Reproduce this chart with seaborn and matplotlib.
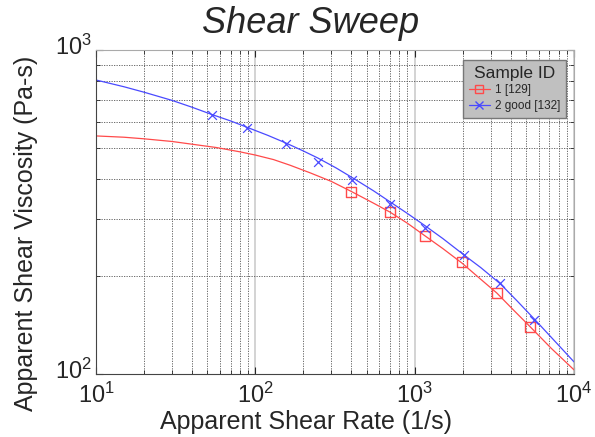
import numpy as np
import matplotlib
matplotlib.use("Agg")
import matplotlib.pyplot as plt
import matplotlib.ticker as mticker
import matplotlib.transforms as mtransforms
from matplotlib.lines import Line2D
import seaborn as sns

rate_1 = [400, 700, 1160, 1980, 3270, 5300]
visc_1 = [364, 316, 267, 222, 178, 140]
rate_2 = [53.5, 89, 156, 247, 405, 700, 1160, 2040, 3440, 5620]
visc_2 = [630, 574, 513, 451, 397, 335, 282, 233, 191, 147]

# fitted curves
fit_rate_1 = [10, 15, 20, 30, 40, 57, 80, 100, 130, 165, 220, 300, 400, 550, 700,
              900, 1160, 1500, 1980, 2600, 3270, 4200, 5300, 7200, 10000]
fit_visc_1 = [543, 538, 532, 522, 512, 500, 485, 474, 459, 441, 418, 393, 366, 337, 316,
              292, 267, 244, 220, 196, 178, 157, 140, 120, 103]
fit_rate_2 = [10, 15, 20, 30, 40, 53.5, 70, 89, 120, 156, 200, 247, 320, 405, 550,
              700, 900, 1160, 1500, 2040, 2600, 3440, 4400, 5620, 7500, 10000]
fit_visc_2 = [808, 770, 741, 699, 666, 632, 604, 577, 545, 516, 488, 464, 433, 404, 368,
              340, 313, 287, 262, 233, 213, 190, 168, 148, 127, 109]

labels = ["1 [129]", "2 good [132]"]
red = "#ff4a4a"
blue = "#4a4aff"

sns.set_style("white")
plt.rcParams["font.family"] = ["Liberation Sans", "DejaVu Sans"]

fig, ax = plt.subplots(figsize=(5.95, 4.37), dpi=100)
fig.subplots_adjust(left=96 / 595, right=574 / 595, top=1 - 50 / 437, bottom=1 - 374 / 437)

sns.lineplot(x=fit_rate_1, y=fit_visc_1, ax=ax, color=red, linewidth=0.9, sort=False)
sns.lineplot(x=fit_rate_2, y=fit_visc_2, ax=ax, color=blue, linewidth=0.9, sort=False)
sns.scatterplot(x=rate_1, y=visc_1, ax=ax, marker="s", s=55, facecolor="none",
                edgecolor=red, linewidth=1.0, zorder=3)
sns.scatterplot(x=rate_2, y=visc_2, ax=ax, marker="x", s=40, color=blue, linewidth=0.9, zorder=3)

ax.set_xscale("log")
ax.set_yscale("log")
ax.set_xlim(10, 1e4)
ax.set_ylim(100, 1000)

ax.xaxis.set_minor_locator(mticker.LogLocator(base=10, subs=np.arange(2, 10)))
ax.yaxis.set_minor_locator(mticker.LogLocator(base=10, subs=np.arange(2, 10)))
ax.xaxis.set_minor_formatter(mticker.NullFormatter())
ax.yaxis.set_minor_formatter(mticker.NullFormatter())

ax.grid(which="minor", axis="both", color="#555555", linestyle=(0, (1.5, 1.5)), linewidth=0.6)
ax.grid(which="major", axis="x", color="#cccccc", linestyle="-", linewidth=1.2)

ax.tick_params(which="both", direction="in", top=True, right=True, bottom=True, left=True)
ax.tick_params(axis="x", which="major", length=5, labelsize=17, pad=6)
ax.tick_params(axis="y", which="major", length=5, labelsize=17, pad=3)
ax.tick_params(which="minor", length=3)

# y tick labels sit a little above their ticks in the reference
shift_up = mtransforms.ScaledTranslation(0, 5 / 100, fig.dpi_scale_trans)
for lbl in ax.get_yticklabels():
    lbl.set_transform(lbl.get_transform() + shift_up)

for side in ["top", "right"]:
    ax.spines[side].set_color("#aaaaaa")
for side in ["left", "bottom"]:
    ax.spines[side].set_color("#444444")

# labels placed where the reference has them (centred on the figure, not the axes)
ax.set_xlabel("Apparent Shear Rate (1/s)", fontsize=18)
ax.xaxis.set_label_coords(306 / 595, 1 - 422 / 437, transform=fig.transFigure)
ax.xaxis.label.set_va("center")
ax.set_ylabel("Apparent Shear Viscosity (Pa-s)", fontsize=18)
ax.yaxis.set_label_coords(26 / 595, 1 - 233 / 437, transform=fig.transFigure)
ax.yaxis.label.set_va("center")
fig.text(311 / 595, 1 - 33 / 437, "Shear Sweep", fontsize=26, style="italic",
         ha="center", va="baseline")

handles = [
    Line2D([], [], color=red, marker="s", markerfacecolor="none", markersize=6, linewidth=0.9),
    Line2D([], [], color=blue, marker="x", markersize=6, linewidth=0.9),
]
leg = ax.legend(handles, labels, title="Sample ID", loc="upper right",
                bbox_to_anchor=((566 - 96) / 478, (374 - 60) / 324), fontsize=8.5,
                title_fontsize=12.5, frameon=True, fancybox=False, framealpha=1,
                handlelength=1.8, handletextpad=0.4, borderpad=0.5, labelspacing=0.3,
                borderaxespad=0)
leg.get_frame().set_facecolor("#c0c0c0")
leg.get_frame().set_edgecolor("#777777")

fig.savefig("out.png", dpi=100)
